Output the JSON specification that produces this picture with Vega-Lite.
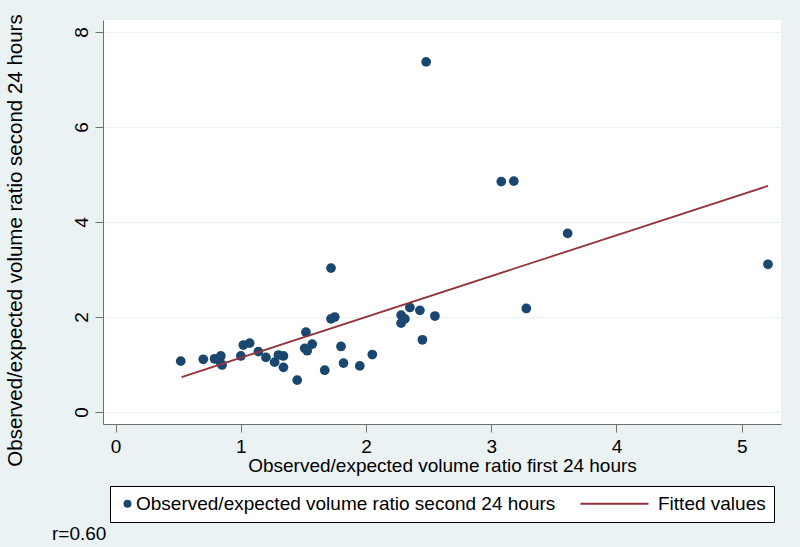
{
  "$schema": "https://vega.github.io/schema/vega-lite/v6.json",
  "width": 678,
  "height": 404,
  "autosize": {"type": "none"},
  "padding": {"left": 103, "top": 20, "right": 19, "bottom": 123},
  "background": "#EAF2F3",
  "title": {"text": "r=0.60", "orient": "bottom", "anchor": "start", "frame": "group", "dx": -51, "offset": 2, "fontSize": 19, "fontWeight": "normal", "font": "Liberation Sans", "color": "black"},
  "datasets": {
    "obs": [
      {"x": 0.52, "y": 1.07}, {"x": 0.70, "y": 1.11}, {"x": 0.79, "y": 1.12}, {"x": 0.84, "y": 1.18},
      {"x": 0.83, "y": 1.08}, {"x": 0.85, "y": 0.99}, {"x": 1.00, "y": 1.18}, {"x": 1.02, "y": 1.41},
      {"x": 1.07, "y": 1.45}, {"x": 1.14, "y": 1.27}, {"x": 1.20, "y": 1.15}, {"x": 1.27, "y": 1.05},
      {"x": 1.30, "y": 1.20}, {"x": 1.34, "y": 1.18}, {"x": 1.34, "y": 0.94}, {"x": 1.45, "y": 0.67},
      {"x": 1.52, "y": 1.68}, {"x": 1.51, "y": 1.34}, {"x": 1.53, "y": 1.29}, {"x": 1.57, "y": 1.43},
      {"x": 1.67, "y": 0.88}, {"x": 1.72, "y": 3.03}, {"x": 1.72, "y": 1.96}, {"x": 1.75, "y": 2.00},
      {"x": 1.80, "y": 1.38}, {"x": 1.82, "y": 1.03}, {"x": 1.95, "y": 0.97}, {"x": 2.05, "y": 1.21},
      {"x": 2.28, "y": 2.04}, {"x": 2.28, "y": 1.87}, {"x": 2.31, "y": 1.96}, {"x": 2.35, "y": 2.20},
      {"x": 2.43, "y": 2.14}, {"x": 2.45, "y": 1.52}, {"x": 2.55, "y": 2.02}, {"x": 2.48, "y": 7.37},
      {"x": 3.08, "y": 4.85}, {"x": 3.18, "y": 4.86}, {"x": 3.61, "y": 3.76}, {"x": 3.28, "y": 2.18},
      {"x": 5.21, "y": 3.11}
    ],
    "fit": [
      {"x": 0.527, "yhat": 0.736},
      {"x": 5.21, "yhat": 4.76}
    ]
  },
  "layer": [
    {
      "data": {"name": "obs"},
      "mark": {"type": "point", "filled": true, "size": 95, "opacity": 1},
      "encoding": {
        "x": {
          "field": "x", "type": "quantitative",
          "scale": {"domain": [-0.101, 5.314], "nice": false, "zero": false},
          "axis": {
            "values": [0, 1, 2, 3, 4, 5],
            "format": "d",
            "title": "Observed/expected volume ratio first 24 hours",
            "grid": false,
            "tickSize": 8,
            "labelFontSize": 19,
            "labelPadding": 5,
            "labelFlush": false,
            "titleFontSize": 19,
            "titlePadding": 0
          }
        },
        "y": {
          "field": "y", "type": "quantitative",
          "scale": {"domain": [-0.2526, 8.2526], "nice": false, "zero": false},
          "axis": {
            "values": [0, 2, 4, 6, 8],
            "format": "d",
            "title": "Observed/expected volume ratio second 24 hours",
            "grid": true,
            "gridColor": "#EAF2F3",
            "gridWidth": 1,
            "tickSize": 8,
            "labelAngle": 270,
            "labelFontSize": 19,
            "labelPadding": 4,
            "titleFontSize": 20.5,
            "titleX": -88,
            "titleY": 220,
            "titleBaseline": "middle",
            "titleAngle": 270
          }
        },
        "color": {
          "datum": "Observed/expected volume ratio second 24 hours",
          "type": "nominal",
          "scale": {
            "domain": ["Observed/expected volume ratio second 24 hours", "Fitted values"],
            "range": ["#1a476f", "#90353b"]
          },
          "legend": {
            "orient": "none",
            "legendX": 7,
            "legendY": 466,
            "direction": "horizontal",
            "title": null,
            "strokeColor": "black",
            "fillColor": "white",
            "padding": 8,
            "columnPadding": 24,
            "labelFontSize": 19,
            "labelColor": "black",
            "labelLimit": 0,
            "labelOffset": -1,
            "symbolSize": 64
          }
        },
        "shape": {
          "datum": "Observed/expected volume ratio second 24 hours",
          "type": "nominal",
          "scale": {
            "domain": ["Observed/expected volume ratio second 24 hours", "Fitted values"],
            "range": ["circle", "M-17.25,-0.225H-0.25V0.225H-17.25Z"]
          },
          "legend": {
            "orient": "none",
            "legendX": 7,
            "legendY": 466,
            "direction": "horizontal",
            "title": null,
            "strokeColor": "black",
            "fillColor": "white",
            "padding": 8,
            "columnPadding": 24,
            "labelFontSize": 19,
            "labelColor": "black",
            "labelLimit": 0,
            "labelOffset": -1,
            "symbolSize": 64
          }
        }
      }
    },
    {
      "data": {"name": "fit"},
      "mark": {"type": "line", "strokeWidth": 1.8, "color": "#90353b"},
      "encoding": {
        "x": {"field": "x", "type": "quantitative"},
        "y": {"field": "yhat", "type": "quantitative"}
      }
    }
  ],
  "config": {
    "font": "Liberation Sans",
    "view": {"fill": "white", "stroke": null},
    "axis": {
      "domainColor": "#6f6f6f",
      "tickColor": "#6f6f6f",
      "labelColor": "black",
      "titleColor": "black",
      "titleFontWeight": "normal",
      "labelFont": "Liberation Sans",
      "titleFont": "Liberation Sans"
    },
    "legend": {"labelFont": "Liberation Sans"}
  }
}
